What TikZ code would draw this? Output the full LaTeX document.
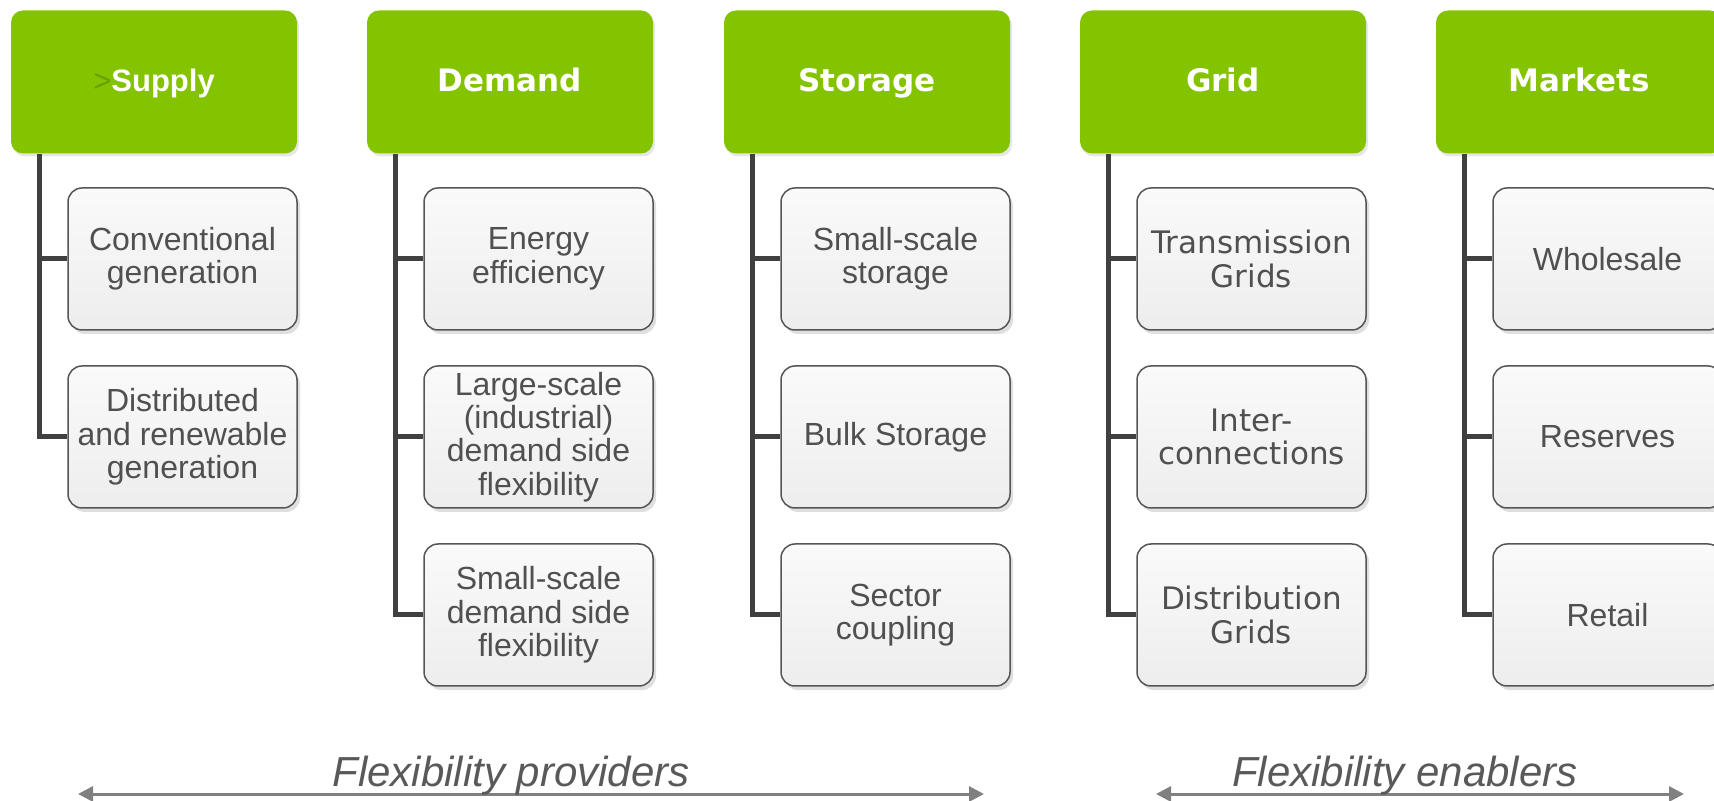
\documentclass[tikz,border=0pt]{standalone}
\usepackage{fontspec}
\setmainfont{Liberation Sans}
\newfontfamily\verdfont{DejaVu Sans}
\usetikzlibrary{shadows,arrows.meta}

\definecolor{leafgreen}{RGB}{132,195,0}
\definecolor{leafdark}{RGB}{104,160,0}
\definecolor{boxline}{RGB}{85,85,85}
\definecolor{boxtext}{RGB}{80,80,80}
\definecolor{trunkgray}{RGB}{64,64,64}
\definecolor{arrowgray}{RGB}{128,128,128}
\definecolor{capgray}{RGB}{89,89,89}

\tikzset{
    head/.style={fill=leafgreen, rounded corners=6pt, minimum width=143pt, minimum height=71.5pt,
        inner sep=0pt, text height=12pt, text depth=2.5pt, text=white,
        font=\verdfont\bfseries\fontsize{15.5}{17}\selectfont,
        drop shadow={shadow xshift=1pt, shadow yshift=-1.5pt, opacity=0.2}},
    leaf/.style={draw=boxline, line width=0.75pt, top color=black!2, bottom color=black!7,
        rounded corners=7pt, minimum width=114.5pt, minimum height=71pt, inner sep=0pt,
        align=center, text=boxtext, font=\fontsize{16}{16.7}\selectfont,
        drop shadow={shadow xshift=1.5pt, shadow yshift=-2pt, opacity=0.25}},
    gridleaf/.style={leaf, font=\verdfont\fontsize{15.5}{16.7}\selectfont},
    trunk/.style={trunkgray, line width=2.5pt},
    span/.style={arrowgray, line width=1.5pt,
        {Triangle[length=7.5pt,width=7.5pt]}-{Triangle[length=7.5pt,width=7.5pt]}},
    caption/.style={text=capgray, font=\itshape\fontsize{21}{24}\selectfont, anchor=base},
}

\begin{document}
\begin{tikzpicture}[x=0.5pt, y=-0.5pt]
    \useasboundingbox (0,0) rectangle (1714,801);
    \clip (0,0) rectangle (1714,801);

    % headers
    \node[head, font=\bfseries\fontsize{15.5}{17}\selectfont] (hsup) at (154,82) {{\mdseries\color{leafdark}>}Supply};
    \node[head] (hdem) at (510,82) {Demand};
    \node[head] (hsto) at (867,82) {Storage};
    \node[head] (hgrd) at (1223,82) {Grid};
    \node[head] (hmkt) at (1579,82) {Markets};

    % supply
    \node[leaf] (sup1) at (182.5,259) {Conventional\\generation};
    \node[leaf] (sup2) at (182.5,437) {Distributed\\and renewable\\generation};

    % demand
    \node[leaf] (dem1) at (538.5,259) {Energy\\efficiency};
    \node[leaf] (dem2) at (538.5,437) {Large-scale\\(industrial)\\demand side\\flexibility};
    \node[leaf] (dem3) at (538.5,615) {Small-scale\\demand side\\flexibility};

    % storage
    \node[leaf] (sto1) at (895.5,259) {Small-scale\\storage};
    \node[leaf] (sto2) at (895.5,437) {Bulk Storage};
    \node[leaf] (sto3) at (895.5,615) {Sector\\coupling};

    % grid
    \node[gridleaf] (grd1) at (1251.5,259) {Transmission\\Grids};
    \node[gridleaf] (grd2) at (1251.5,437) {Inter-\\connections};
    \node[gridleaf] (grd3) at (1251.5,615) {Distribution\\Grids};

    % markets
    \node[leaf] (mkt1) at (1607.5,259) {Wholesale};
    \node[leaf] (mkt2) at (1607.5,437) {Reserves};
    \node[leaf] (mkt3) at (1607.5,615) {Retail};

    % trunks
    \coordinate (tsup) at ([xshift=14.5pt]hsup.south west);
    \coordinate (tdem) at ([xshift=14.5pt]hdem.south west);
    \coordinate (tsto) at ([xshift=14.5pt]hsto.south west);
    \coordinate (tgrd) at ([xshift=14.5pt]hgrd.south west);
    \coordinate (tmkt) at ([xshift=14.5pt]hmkt.south west);

    \draw[trunk] (tsup) |- (sup2.west);
    \draw[trunk] (tsup |- sup1.west) -- (sup1.west);

    \draw[trunk] (tdem) |- (dem3.west);
    \draw[trunk] (tdem |- dem1.west) -- (dem1.west);
    \draw[trunk] (tdem |- dem2.west) -- (dem2.west);

    \draw[trunk] (tsto) |- (sto3.west);
    \draw[trunk] (tsto |- sto1.west) -- (sto1.west);
    \draw[trunk] (tsto |- sto2.west) -- (sto2.west);

    \draw[trunk] (tgrd) |- (grd3.west);
    \draw[trunk] (tgrd |- grd1.west) -- (grd1.west);
    \draw[trunk] (tgrd |- grd2.west) -- (grd2.west);

    \draw[trunk] (tmkt) |- (mkt3.west);
    \draw[trunk] (tmkt |- mkt1.west) -- (mkt1.west);
    \draw[trunk] (tmkt |- mkt2.west) -- (mkt2.west);

    % bottom spans
    \coordinate (pl) at (78,794);
    \coordinate (pr) at (984,794);
    \coordinate (el) at (1156,794);
    \coordinate (er) at (1684,794);
    \draw[span] (pl) -- (pr);
    \draw[span] (el) -- (er);
    \node[caption] (prov) at (511,786) {Flexibility providers};
    \node[caption] (enab) at (1405,786) {Flexibility enablers};
\end{tikzpicture}
\end{document}
